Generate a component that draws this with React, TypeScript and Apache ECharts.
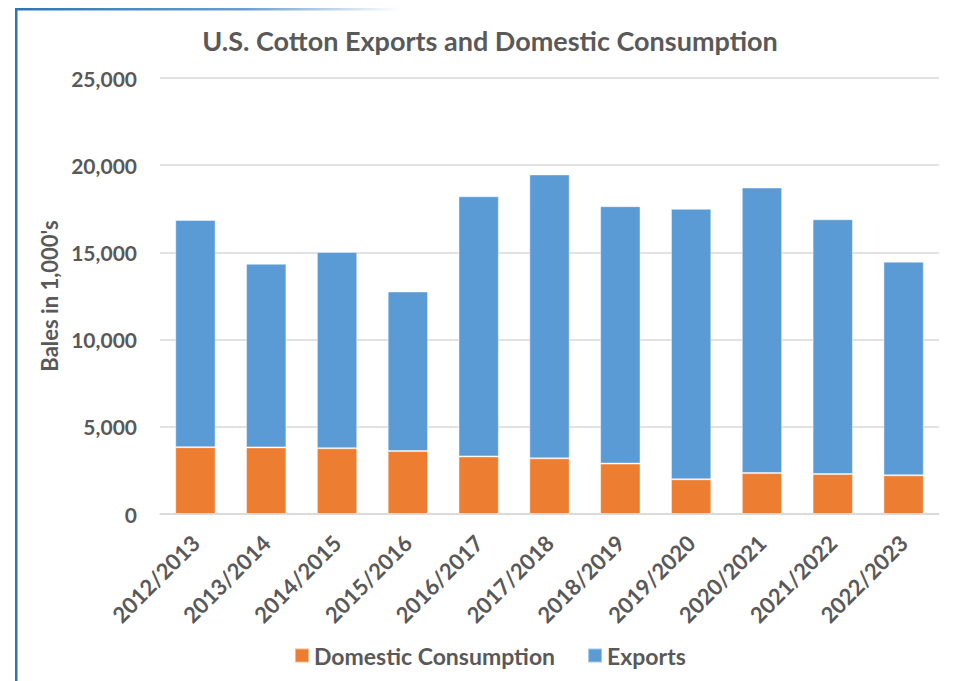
import React, { useEffect, useRef } from "react";
import * as echarts from "echarts";

const categories = [
  "2012/2013", "2013/2014", "2014/2015", "2015/2016", "2016/2017", "2017/2018",
  "2018/2019", "2019/2020", "2020/2021", "2021/2022", "2022/2023",
];
const domesticConsumption = [3830, 3820, 3770, 3610, 3300, 3190, 2890, 1990, 2350, 2290, 2220];
const exportsValues = [13030, 10530, 11250, 9150, 14920, 16280, 14760, 15510, 16370, 14610, 12250];
const yTicks = { min: 0, max: 25000, interval: 5000 };

const textColor = "#595959";
const font = "Lato, 'Open Sans', sans-serif";

export default function App() {
  const ref = useRef<HTMLDivElement>(null);
  useEffect(() => {
    document.body.style.margin = "0";
    const chart = echarts.init(ref.current!, null, { renderer: "svg" });
    chart.setOption({
      animation: false,
      backgroundColor: "#ffffff",
      textStyle: { fontFamily: font },
      title: {
        text: "U.S. Cotton Exports and Domestic Consumption",
        left: 485,
        top: 22,
        textAlign: "center",
        textStyle: { color: textColor, fontSize: 27, fontWeight: "bold", fontFamily: font },
      },
      graphic: [
        {
          type: "rect",
          shape: { x: 15, y: 8, width: 2.5, height: 673 },
          style: { fill: "#2E75B6" },
        },
        {
          type: "rect",
          shape: { x: 15, y: 8, width: 385, height: 2.5 },
          style: {
            fill: new echarts.graphic.LinearGradient(0, 0, 1, 0, [
              { offset: 0, color: "#2E75B6" },
              { offset: 0.6, color: "rgba(46,117,182,0.7)" },
              { offset: 1, color: "rgba(46,117,182,0)" },
            ]),
          },
        },
      ],
      legend: {
        top: 639,
        left: 289,
        itemWidth: 14,
        itemHeight: 14,
        itemGap: 32,
        icon: "rect",
        textStyle: { color: textColor, fontSize: 23, fontWeight: "bold", fontFamily: font },
        data: ["Domestic Consumption", "Exports"],
      },
      grid: { left: 160, right: 16, top: 78, bottom: 167 },
      xAxis: {
        type: "category",
        data: categories,
        axisLine: { lineStyle: { color: "#D9D9D9", width: 1.5 } },
        axisTick: { show: false },
        axisLabel: {
          rotate: 45,
          color: textColor,
          fontSize: 22,
          fontWeight: "bold",
          fontFamily: font,
          margin: 25,
          interval: 0,
        },
      },
      yAxis: {
        type: "value",
        min: yTicks.min,
        max: yTicks.max,
        interval: yTicks.interval,
        name: "Bales in 1,000's",
        nameLocation: "middle",
        nameGap: 100,
        nameTextStyle: { color: textColor, fontSize: 22, fontWeight: "bold", fontFamily: font },
        axisLine: { show: false },
        axisTick: { show: false },
        splitLine: { lineStyle: { color: "#D9D9D9", width: 1.5 } },
        axisLabel: {
          color: textColor,
          fontSize: 21,
          fontWeight: "bold",
          fontFamily: font,
          margin: 23,
          formatter: (v: number) => v.toLocaleString("en-US"),
        },
      },
      series: [
        {
          name: "Domestic Consumption",
          type: "bar",
          stack: "total",
          data: domesticConsumption,
          barCategoryGap: "43%",
          itemStyle: { color: "#ED7D31", borderColor: "rgba(255,255,255,0.45)", borderWidth: 1 },
        },
        {
          name: "Exports",
          type: "bar",
          stack: "total",
          data: exportsValues,
          barCategoryGap: "43%",
          itemStyle: { color: "#5B9BD5", borderColor: "rgba(255,255,255,0.45)", borderWidth: 1 },
        },
      ],
    });
    return () => chart.dispose();
  }, []);
  return <div ref={ref} style={{ position: "absolute", left: 0, top: 0, width: 955, height: 681 }} />;
}
